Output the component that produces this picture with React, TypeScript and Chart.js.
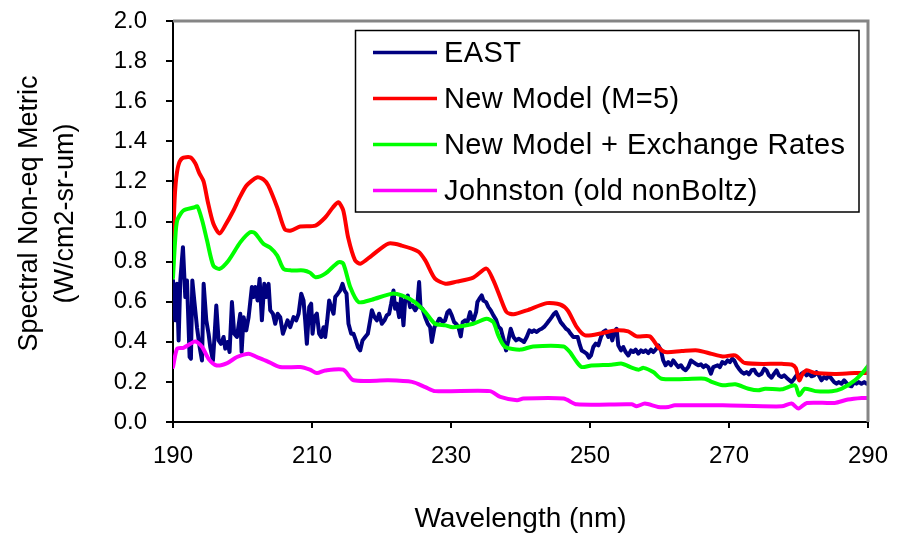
import React, { useEffect, useRef } from "react";
import { Chart, registerables } from "chart.js";

Chart.register(...registerables);

// ---- axis settings ----
const X_MIN = 190;
const X_MAX = 290;
const X_STEP = 20;
const Y_MIN = 0;
const Y_MAX = 2;
const Y_STEP = 0.2;
const X_TITLE = "Wavelength (nm)";
const Y_TITLE = ["Spectral Non-eq Metric", "(W/cm2-sr-um)"];

// ---- series names ----
const SERIES_NAMES = ["EAST", "New Model (M=5)", "New Model + Exchange Rates", "Johnston (old nonBoltz)"];
const SERIES_COLORS = ["#000080", "#ff0000", "#00ff00", "#ff00ff"];

// ---- EAST (measured) ----
const eastNm = [
  190.0, 190.33, 190.57, 190.81, 191.05, 191.43, 191.77, 192.01, 192.39, 192.58, 192.78, 193.06, 193.45, 193.83,
  194.17, 194.41, 194.79, 195.12, 195.36, 195.75, 195.94, 196.23, 196.56, 196.9, 197.28, 197.52, 197.86, 198.14,
  198.48, 198.81, 199.2, 199.68, 199.87, 200.16, 200.54, 200.88, 201.35, 201.59, 201.83, 202.17, 202.46, 202.79,
  203.13, 203.42, 203.75, 203.99, 204.38, 204.71, 205.05, 205.43, 205.81, 206.15, 206.48, 206.87, 207.35, 207.73,
  208.07, 208.45, 208.78,
  209.02, 209.26, 209.6, 209.88, 210.08, 210.36, 210.7, 211.03, 211.32, 211.66, 211.9, 212.19, 212.47, 212.76,
  213.1, 213.34, 213.72, 214.05, 214.39, 214.68, 214.97, 215.25, 215.64, 215.97, 216.31, 216.6, 216.93, 217.27,
  217.65, 218.03, 218.37, 218.61, 218.99, 219.33, 219.66, 220.05, 220.43, 220.76, 221.1, 221.39, 221.72, 221.96,
  222.2, 222.54, 222.83, 223.16, 223.4, 223.78, 224.12, 224.46, 224.84, 225.13, 225.41, 225.61, 225.89, 226.28,
  226.66, 227.0, 227.24, 227.62, 227.95, 228.29,
  228.43, 228.82, 229.15, 229.49, 229.78, 230.11, 230.45, 230.73, 231.07, 231.4, 231.69, 232.03, 232.36, 232.75,
  232.99, 233.23, 233.61, 233.8, 234.09, 234.42, 234.66, 235.05, 235.38, 235.72, 236.1, 236.49, 236.82, 237.16,
  237.54, 237.92, 238.26, 238.59, 238.98, 239.36, 239.75, 240.18, 240.51, 240.9, 241.28, 241.61, 241.95, 242.33,
  242.72, 243.05, 243.39, 243.77, 244.15, 244.49, 244.83, 245.11, 245.45, 245.78, 246.17, 246.55, 246.89, 247.22,
  247.6,
  248.23, 248.56, 248.8, 249.19, 249.52, 249.86, 250.14, 250.48, 250.82, 251.2, 251.58, 251.92, 252.25, 252.64,
  252.88, 253.21, 253.5, 253.83, 254.07, 254.46, 254.79, 255.13, 255.51, 255.9, 256.23, 256.57, 256.95, 257.33,
  257.67, 258.0, 258.39, 258.77, 259.11, 259.44, 259.83, 260.21, 260.54, 260.88, 261.26, 261.65, 261.98, 262.32,
  262.7, 263.08, 263.42, 263.76, 264.14, 264.52, 264.86, 265.19, 265.58, 265.96, 266.3, 266.63, 267.02, 267.4,
  267.73,
  268.36, 268.69, 269.03, 269.41, 269.79, 270.13, 270.47, 270.75, 271.09, 271.42, 271.81, 272.19, 272.53, 272.86,
  273.25, 273.63, 273.96, 274.3, 274.68, 275.07, 275.4, 275.74, 276.12, 276.5, 276.84, 277.18, 277.56, 277.94,
  278.28, 278.61, 279.0, 279.38, 279.72, 280.05, 280.43, 280.82, 281.15, 281.49, 281.87, 282.26, 282.59, 282.93,
  283.31, 283.69, 284.03, 284.37, 284.75, 285.13, 285.47, 285.8, 286.19, 286.57, 286.91, 287.24, 287.62, 288.01,
  288.34, 288.68, 289.06, 289.45, 289.78, 290.0,
];
const eastVal = [
  0.706, 0.507, 0.689, 0.407, 0.706, 0.872, 0.623, 0.706, 0.324, 0.316, 0.706, 0.606, 0.473, 0.374,
  0.307, 0.689, 0.507, 0.44, 0.374, 0.307, 0.407, 0.581, 0.407, 0.39, 0.424, 0.366, 0.399, 0.349,
  0.598, 0.44, 0.424, 0.54, 0.349, 0.523, 0.457, 0.523, 0.673, 0.623, 0.673, 0.606, 0.714, 0.507,
  0.689, 0.623, 0.689, 0.557, 0.54, 0.49, 0.54, 0.523, 0.44, 0.473, 0.507, 0.473, 0.523, 0.507,
  0.54, 0.64, 0.606,
  0.507, 0.39, 0.573, 0.59, 0.44, 0.523, 0.54, 0.44, 0.424, 0.473, 0.424, 0.507, 0.606, 0.573,
  0.54, 0.623, 0.64, 0.656, 0.689, 0.656, 0.64, 0.49, 0.44, 0.44, 0.407, 0.374, 0.357, 0.407,
  0.424, 0.44, 0.507, 0.557, 0.523, 0.507, 0.54, 0.49, 0.507, 0.532, 0.54, 0.59, 0.656, 0.565,
  0.59, 0.523, 0.623, 0.482, 0.606, 0.631, 0.573, 0.581, 0.557, 0.573, 0.698, 0.573, 0.565, 0.523,
  0.49, 0.473, 0.399, 0.473, 0.49, 0.515,
  0.515, 0.498, 0.507, 0.548, 0.557, 0.532, 0.498, 0.49, 0.474, 0.427, 0.498, 0.507, 0.498, 0.548,
  0.515, 0.507, 0.548, 0.598, 0.615, 0.631, 0.606, 0.598, 0.573, 0.557, 0.532, 0.51, 0.474, 0.465,
  0.415, 0.357, 0.407, 0.465, 0.424, 0.407, 0.415, 0.407, 0.399, 0.424, 0.457, 0.449, 0.457, 0.449,
  0.46, 0.465, 0.474, 0.49, 0.507, 0.523, 0.54, 0.548, 0.523, 0.498, 0.482, 0.465, 0.457, 0.44,
  0.424,
  0.424, 0.382, 0.357, 0.349, 0.341, 0.321, 0.332, 0.374, 0.391, 0.382, 0.424, 0.449, 0.457, 0.424,
  0.449, 0.407, 0.449, 0.465, 0.382, 0.357, 0.374, 0.349, 0.332, 0.357, 0.349, 0.361, 0.341, 0.357,
  0.349, 0.357, 0.344, 0.361, 0.349, 0.361, 0.382, 0.357, 0.307, 0.283, 0.299, 0.283, 0.307, 0.291,
  0.274, 0.283, 0.266, 0.258, 0.274, 0.307, 0.299, 0.291, 0.283, 0.288, 0.274, 0.283, 0.274, 0.241,
  0.274,
  0.283, 0.274, 0.299, 0.291, 0.307, 0.299, 0.316, 0.307, 0.283, 0.266, 0.249, 0.241, 0.249, 0.238,
  0.258, 0.261, 0.241, 0.233, 0.241, 0.266, 0.258, 0.233, 0.221, 0.241, 0.258, 0.233, 0.224, 0.233,
  0.221, 0.211, 0.199, 0.216, 0.233, 0.224, 0.241, 0.249, 0.233, 0.241, 0.228, 0.233, 0.249, 0.233,
  0.208, 0.224, 0.216, 0.233, 0.216, 0.199, 0.191, 0.199, 0.191, 0.208, 0.194, 0.183, 0.178, 0.199,
  0.191, 0.199, 0.191, 0.199, 0.191, 0.194,
];

// ---- New Model (M=5) ----
const newModelNm = [
  190.0, 190.3, 190.7, 191.3, 192.5, 193.2, 193.8, 194.4, 195.0, 195.8, 196.7, 197.5, 198.7, 199.6, 200.6,
  202.1, 203.0, 203.7, 205.0, 206.1, 207.0, 208.3, 210.5, 211.9, 213.0, 213.8, 214.5, 215.2, 216.2, 217.0,
  218.6, 221.0, 222.9, 225.3, 226.3, 227.7, 229.2, 230.8, 233.2, 235.1, 236.1, 237.1, 238.0, 239.0, 240.9,
  243.8, 245.7, 246.8, 248.1, 249.3, 251.7, 253.6, 255.5, 256.7, 258.6, 259.8, 260.8, 263.2, 265.5, 267.5,
  269.1, 270.9, 272.3, 277.6, 279.0, 279.6, 280.1, 280.6, 281.2, 282.4, 285.2, 288.1, 290.0,
];
const newModelVal = [
  0.905, 1.15, 1.27, 1.315, 1.32, 1.29, 1.24, 1.2, 1.1, 0.99, 0.94, 0.98, 1.055, 1.12, 1.18,
  1.22, 1.21, 1.18, 1.07, 0.96, 0.955, 0.975, 0.98, 1.02, 1.07, 1.096, 1.055, 0.92, 0.806, 0.79,
  0.83, 0.89, 0.88, 0.85, 0.806, 0.715, 0.69, 0.7, 0.72, 0.765, 0.706, 0.62, 0.548, 0.537, 0.557,
  0.593, 0.586, 0.556, 0.473, 0.432, 0.443, 0.457, 0.452, 0.427, 0.427, 0.374, 0.349, 0.354, 0.357, 0.34,
  0.327, 0.332, 0.294, 0.29, 0.287, 0.27, 0.208, 0.24, 0.258, 0.244, 0.24, 0.244, 0.244,
];

// ---- New Model + Exchange Rates ----
const exchangeNm = [
  190.0, 190.3, 190.6, 191.5, 193.0, 193.5, 194.2, 194.9, 195.8, 196.7, 198.0, 199.7, 201.1, 201.8, 203.0,
  204.0, 205.0, 205.9, 207.0, 208.8, 209.7, 210.5, 211.9, 213.8, 214.5, 215.5, 216.7, 218.6, 221.5, 222.9,
  224.8, 226.3, 227.7, 229.2, 230.3, 233.2, 235.1, 236.1, 236.8, 237.8, 240.0, 241.8, 246.2, 247.1, 248.1,
  248.8, 250.2, 253.1, 254.6, 256.0, 257.0, 257.7, 259.1, 260.3, 263.7, 266.5, 267.5, 269.1, 270.9, 272.8,
  274.2, 275.2, 277.6, 279.5, 280.1, 280.9, 282.4, 284.8, 286.2, 288.1, 289.3, 290.0,
];
const exchangeVal = [
  0.72, 0.9, 1.005, 1.055, 1.07, 1.076, 1.005, 0.905, 0.78, 0.764, 0.806, 0.897, 0.947, 0.942, 0.889,
  0.869, 0.83, 0.764, 0.756, 0.756, 0.745, 0.722, 0.74, 0.797, 0.79, 0.673, 0.598, 0.61, 0.64, 0.631,
  0.598, 0.548, 0.49, 0.482, 0.473, 0.49, 0.515, 0.498, 0.432, 0.374, 0.361, 0.377, 0.377, 0.349, 0.299,
  0.274, 0.282, 0.286, 0.291, 0.271, 0.261, 0.27, 0.249, 0.216, 0.214, 0.216, 0.2, 0.183, 0.188, 0.166,
  0.158, 0.166, 0.163, 0.183, 0.133, 0.166, 0.154, 0.153, 0.166, 0.208, 0.249, 0.28,
];

// ---- Johnston (old nonBoltz) ----
const johnstonNm = [
  190.0, 190.6, 191.5, 192.5, 193.2, 194.2, 195.1, 196.3, 197.8, 199.2, 200.9, 202.1, 203.5, 205.4, 208.3,
  209.7, 210.7, 211.9, 214.5, 216.0, 221.0, 224.4, 226.3, 227.7, 235.6, 237.1, 239.5, 240.4, 246.2, 248.1,
  256.0, 256.7, 257.9, 259.8, 261.3, 262.2, 269.1, 277.6, 279.0, 280.0, 281.2, 285.2, 287.1, 289.1, 290.0,
];
const johnstonVal = [
  0.274, 0.366, 0.37, 0.39, 0.402, 0.374, 0.316, 0.282, 0.294, 0.324, 0.341, 0.324, 0.304, 0.274, 0.274,
  0.261, 0.244, 0.257, 0.261, 0.208, 0.208, 0.2, 0.174, 0.154, 0.154, 0.125, 0.108, 0.117, 0.117, 0.088,
  0.088, 0.078, 0.092, 0.075, 0.075, 0.083, 0.083, 0.078, 0.092, 0.067, 0.095, 0.095, 0.112, 0.12, 0.12,
];

const FONT = "'Liberation Sans', Arial, Helvetica, sans-serif";

const toPoints = (xs: number[], ys: number[]) => xs.map((x, i) => ({ x, y: ys[i] }));

const decorPlugin = {
  id: "decor",
  afterDraw(chart: any) {
    const { ctx, chartArea: a } = chart;
    ctx.save();
    // gray plot-area frame (top and right)
    ctx.strokeStyle = "#858585";
    ctx.lineWidth = 3;
    ctx.beginPath();
    ctx.moveTo(a.left, a.top);
    ctx.lineTo(a.right, a.top);
    ctx.lineTo(a.right, a.bottom);
    ctx.stroke();

    // y axis title (two lines, rotated)
    ctx.fillStyle = "#000";
    ctx.font = `27px ${FONT}`;
    ctx.textAlign = "center";
    ctx.textBaseline = "middle";
    ctx.translate(30, 213.5);
    ctx.rotate(-Math.PI / 2);
    Y_TITLE.forEach((line, i) => ctx.fillText(line, 0, i * 36));
    ctx.setTransform(1, 0, 0, 1, 0, 0);

    // legend box
    const bx = 355.5, by = 30.5, bw = 503.5, bh = 181.5;
    ctx.fillStyle = "#fff";
    ctx.fillRect(bx, by, bw, bh);
    ctx.strokeStyle = "#000";
    ctx.lineWidth = 1.5;
    ctx.strokeRect(bx, by, bw, bh);
    ctx.font = `29px ${FONT}`;
    ctx.textAlign = "left";
    ctx.textBaseline = "middle";
    try { (ctx as any).letterSpacing = "0.4px"; } catch (e) { /* ignore */ }
    chart.data.datasets.forEach((ds: any, i: number) => {
      const y = 52.5 + i * 46;
      ctx.strokeStyle = ds.borderColor;
      ctx.lineWidth = 3.5;
      ctx.beginPath();
      ctx.moveTo(373, y);
      ctx.lineTo(437, y);
      ctx.stroke();
      ctx.fillStyle = "#000";
      ctx.fillText(ds.label, 444, y + 1);
    });
    try { (ctx as any).letterSpacing = "0px"; } catch (e) { /* ignore */ }
    ctx.restore();
  },
};

export default function App() {
  const ref = useRef<HTMLCanvasElement | null>(null);

  useEffect(() => {
    document.body.style.margin = "0";
    const canvas = ref.current;
    if (!canvas) return;
    const seriesX = [eastNm, newModelNm, exchangeNm, johnstonNm];
    const seriesY = [eastVal, newModelVal, exchangeVal, johnstonVal];
    const chart = new Chart(canvas, {
      type: "line",
      data: {
        datasets: SERIES_NAMES.map((name, i) => ({
          label: name,
          data: toPoints(seriesX[i], seriesY[i]),
          borderColor: SERIES_COLORS[i],
          backgroundColor: SERIES_COLORS[i],
          borderWidth: 4,
          pointRadius: 0,
          tension: i === 0 ? 0 : 0.25,
          borderJoinStyle: "round",
          borderCapStyle: "round",
          fill: false,
          order: 4 - i,
        })),
      },
      options: {
        animation: false,
        responsive: false,
        devicePixelRatio: 1,
        layout: { padding: { top: 21, right: 36, left: 0, bottom: 0 } },
        plugins: {
          legend: { display: false },
          tooltip: { enabled: false },
        },
        scales: {
          x: {
            type: "linear",
            min: X_MIN,
            max: X_MAX,
            afterFit: (s: any) => {
              s.height = 114;
              s.paddingLeft = 0;
              s.paddingRight = 0;
            },
            ticks: {
              stepSize: X_STEP,
              color: "#000",
              padding: 14,
              font: { family: FONT, size: 24 },
              maxRotation: 0,
            },
            grid: {
              display: true,
              drawOnChartArea: false,
              drawTicks: true,
              tickLength: 6,
              color: "#000",
              lineWidth: 2,
            },
            border: { display: true, color: "#000", width: 2 },
            title: {
              display: true,
              text: X_TITLE,
              color: "#000",
              font: { family: FONT, size: 28 },
              padding: { top: 0, bottom: 0 },
            },
          },
          y: {
            type: "linear",
            min: Y_MIN,
            max: Y_MAX,
            afterFit: (s: any) => {
              s.width = 173;
              s.paddingTop = 0;
              s.paddingBottom = 0;
            },
            ticks: {
              stepSize: Y_STEP,
              color: "#000",
              padding: 19,
              font: { family: FONT, size: 24 },
              callback: (v: any) => Number(v).toFixed(1),
            },
            grid: {
              display: true,
              drawOnChartArea: false,
              drawTicks: true,
              tickLength: 7,
              color: "#000",
              lineWidth: 2,
            },
            border: { display: true, color: "#000", width: 2 },
          },
        },
      },
      plugins: [decorPlugin],
    } as any);
    return () => chart.destroy();
  }, []);

  return (
    <div style={{ width: 904, height: 536, background: "#fff" }}>
      <canvas ref={ref} width={904} height={536} style={{ display: "block" }} />
    </div>
  );
}
